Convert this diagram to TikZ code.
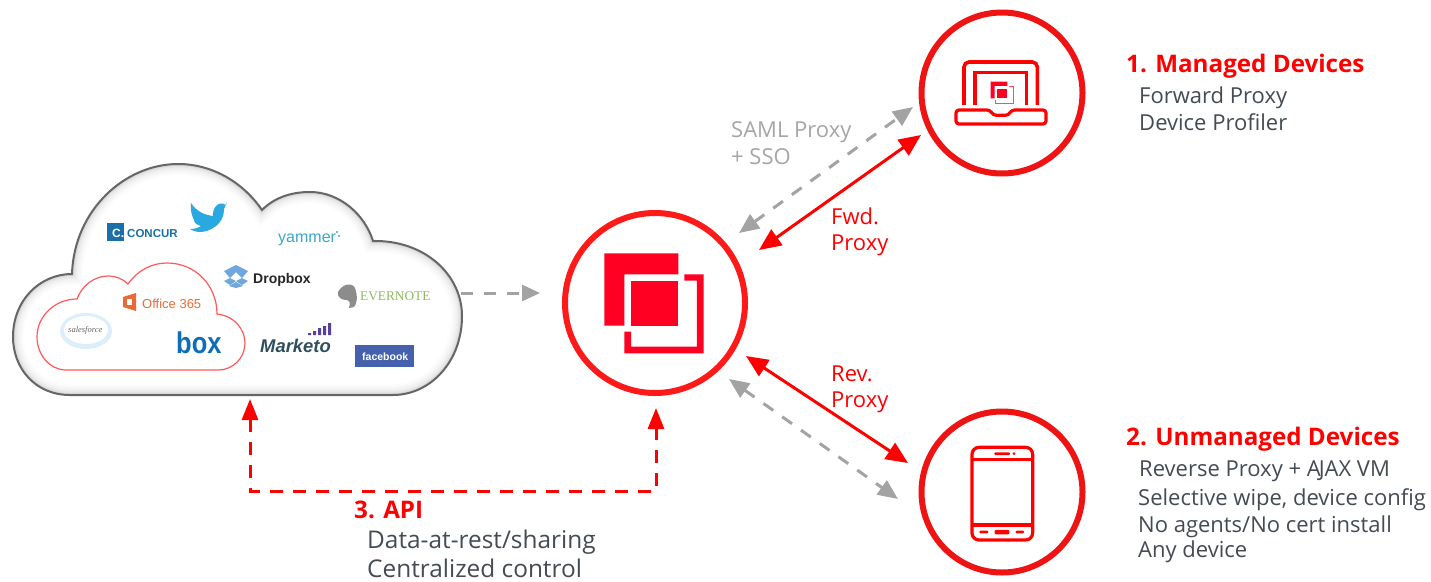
\documentclass[tikz,border=0pt]{standalone}
\usepackage{fontspec}
\setmainfont{Open Sans}
\newfontfamily\logosans{Liberation Sans}
\newfontfamily\logoserif{Liberation Serif}
\usetikzlibrary{arrows.meta}
\definecolor{hubred}{HTML}{FF1A1A}
\definecolor{ringred}{HTML}{EE1414}
\definecolor{iconred}{HTML}{FF0022}
\definecolor{arrowgray}{HTML}{A3A3A3}
\definecolor{txtgray}{HTML}{A6A6A6}
\definecolor{txtdark}{HTML}{444B52}
\definecolor{boxblue}{HTML}{0F6DB8}
\definecolor{concurblue}{HTML}{1A6FA8}
\definecolor{twitterblue}{HTML}{2AA9E0}
\definecolor{yammerblue}{HTML}{3BA8C8}
\definecolor{dropblue}{HTML}{6FA6DC}
\definecolor{everg}{HTML}{8DBB5E}
\definecolor{markdark}{HTML}{2F4F5F}
\definecolor{markpurple}{HTML}{5A3E9E}
\definecolor{fbblue}{HTML}{4560AC}
\definecolor{officeorange}{HTML}{EA6A35}
\definecolor{sfpale}{HTML}{DCEEF9}
\newcommand{\cloudshape}{(72,274)
 .. controls (74,210) and (125,164) .. (178,164)
 .. controls (215,164) and (245,185) .. (262,210)
 .. controls (275,197) and (292,192) .. (310,192)
 .. controls (340,192) and (365,215) .. (373,241)
 .. controls (425,240) and (462,275) .. (462,316)
 .. controls (462,362) and (430,395) .. (393,395)
 -- (70,395)
 .. controls (35,395) and (13,368) .. (13,337)
 .. controls (13,300) and (40,274) .. (72,274) -- cycle}
\tikzset{
 x=1pt,y=-1pt,
 ring/.style={circle,draw=#1,line width=6pt,inner sep=0pt,outer sep=0pt,fill=white},
 conn/.style={line width=3pt},
 redtip/.style={{Triangle[length=22pt,width=19pt]}-{Triangle[length=22pt,width=19pt]},color=red},
 graydash/.style={conn,arrowgray,dash pattern=on 12pt off 11pt,{Triangle[length=20pt,width=17pt]}-{Triangle[length=20pt,width=17pt]}},
 grayone/.style={conn,arrowgray,dash pattern=on 12pt off 11pt,-{Triangle[length=18pt,width=16pt]}},
 reddash/.style={conn,red,dash pattern=on 13pt off 10pt,{Triangle[length=21pt,width=16pt]}-{Triangle[length=21pt,width=16pt]}},
 head/.style={anchor=base west,inner sep=0pt,red,font=\fontsize{24.2}{28}\selectfont\bfseries},
 body/.style={anchor=base west,inner sep=0pt,txtdark,font=\fontsize{22}{27}\selectfont},
 bodylg/.style={anchor=base west,inner sep=0pt,txtdark,font=\fontsize{24.4}{27}\selectfont},
 lab/.style={anchor=base west,inner sep=0pt,font=\fontsize{22}{27}\selectfont},
 logo/.style={anchor=base west,inner sep=0pt},
}
\begin{document}
\begin{tikzpicture}
\path[use as bounding box,fill=white] (0,0) rectangle (1431,581);
% cloud
\fill[white] \cloudshape;
\begin{scope}
 \clip \cloudshape;
 \foreach \w/\o in {22/0.012,18/0.014,14/0.018,10/0.024,7/0.03,4/0.05}{
  \draw[black,opacity=\o,line width=\w pt] \cloudshape;}
\end{scope}
\draw[line width=2pt,color=black!60] \cloudshape;
% inner cloud
\draw[line width=1.2pt,color=red!65!white,fill=white]
 (77,299) .. controls (82,285) and (95,276) .. (108,276)
 .. controls (116,276) and (123,279) .. (128,284)
 .. controls (138,270) and (152,263) .. (167,263)
 .. controls (195,263) and (217,285) .. (217,314)
 .. controls (235,316) and (245,330) .. (245,343)
 .. controls (245,358) and (233,370) .. (218,370)
 -- (66,370)
 .. controls (50,370) and (37,355) .. (37,337)
 .. controls (37,316) and (55,299) .. (77,299) -- cycle;
% salesforce
\fill[sfpale] (86,331) ellipse (26pt and 18pt);
\fill[white] (86,330) ellipse (22pt and 14pt);
\node[logo,font=\logoserif\fontsize{8.5}{9}\selectfont\itshape,color=black!60] (sf) at (68,332) {salesforce};
% office 365
\fill[officeorange] (123,297) -- (136,293) -- (136,311) -- (123,307) -- cycle;
\fill[white] (127,299) rectangle (132,305);
\node[logo,font=\logosans\fontsize{13}{16}\selectfont,color=officeorange] (office) at (142,308) {Office 365};
% box
\node[logo,font=\logosans\bfseries\fontsize{30}{32}\selectfont,color=boxblue,xscale=0.85] (box) at (176,353) {box};
% concur
\fill[concurblue] (107,223) rectangle (124,241);
\node[logo,font=\logosans\bfseries\fontsize{12}{14}\selectfont,white] (concurc) at (112,237) {C.};
\node[logo,font=\logosans\bfseries\fontsize{11.5}{14}\selectfont,color=concurblue] (concur) at (127,237) {CONCUR};
% twitter
\fill[twitterblue]
 (191,203) .. controls (197,212) and (205,215) .. (213,216)
 .. controls (212,208) and (219,200) .. (226,205)
 -- (227,202) -- (224,209) -- (224,210)
 .. controls (224,224) and (210,232) .. (200,232)
 .. controls (197,232) and (193,231) .. (190,229)
 .. controls (194,229) and (198,228) .. (201,226)
 .. controls (197,225) and (194,223) .. (194,220)
 .. controls (192,216) and (190,210) .. (191,203) -- cycle;
% yammer
\node[logo,font=\logosans\fontsize{16}{16}\selectfont,color=yammerblue] (yammer) at (278,242) {yammer};
\fill[yammerblue] (337,232) circle (1.2pt) (339,236) circle (1.2pt);
% dropbox
\begin{scope}[color=dropblue]
 \fill (224,271) -- (236,265) -- (236,272) -- (230,278) -- cycle;
 \fill (248,271) -- (236,265) -- (236,272) -- (242,278) -- cycle;
 \fill (224,281) -- (230,278) -- (236,281) -- (230,285) -- cycle;
 \fill (248,281) -- (242,278) -- (236,281) -- (242,285) -- cycle;
 \fill (229,286) -- (236,282) -- (243,286) -- (236,288) -- cycle;
\end{scope}
\node[logo,font=\logosans\bfseries\fontsize{14}{17}\selectfont,color=black!85] (dropbox) at (253,283) {Dropbox};
% evernote
\fill[black!45] (338,292) .. controls (342,284) and (352,282) .. (355,288)
 .. controls (358,296) and (357,304) .. (354,307) -- (349,308)
 .. controls (351,302) and (349,300) .. (347,300)
 .. controls (342,300) and (337,298) .. (338,292) -- cycle;
\node[logo,font=\logoserif\fontsize{13.3}{14}\selectfont,color=everg] (evernote) at (360,300) {EVERNOTE};
% marketo
\fill[markpurple] (308,333) rectangle +(3,2) (313,331) rectangle +(3,4) (318,328) rectangle +(3,7) (323,326) rectangle +(3,9) (328,323) rectangle +(3,12);
\node[logo,font=\logosans\bfseries\itshape\fontsize{18.4}{20}\selectfont,color=markdark] (marketo) at (260,352) {Marketo};
% facebook
\fill[fbblue] (355,345) rectangle (414,367);
\node[logo,font=\logosans\bfseries\fontsize{10.5}{14}\selectfont,white] (facebook) at (362,360) {facebook};
% circles
\node[ring=hubred,minimum size=180pt] (hub) at (655,303) {};
\node[ring=ringred,minimum size=161pt] (laptop) at (1002,93) {};
\node[ring=ringred,minimum size=161pt] (phone) at (1002,492) {};
% hub icon
\begin{scope}[shift={(540,190)},x=0.3333pt,y=-0.3333pt]
 \fill[iconred] (193,190) -- (415,190) -- (415,253) -- (253,253) -- (253,407) -- (193,407) -- cycle;
 \fill[iconred] (273,273) rectangle (415,407);
 \fill[iconred] (433,253) -- (491,253) -- (491,490) -- (253,490) -- (253,425) -- (273,425) -- (273,470) -- (471,470) -- (471,272) -- (433,272) -- cycle;
\end{scope}
% laptop icon
\begin{scope}[shift={(900,0)},x=0.3333pt,y=-0.3333pt]
 \draw[red,line width=3.6pt,rounded corners=5pt] (192,315) -- (192,186) -- (412,186) -- (412,315);
 \draw[red,line width=3.6pt] (225,315) -- (225,217) -- (380,217) -- (380,315);
 \draw[red,line width=3.2pt,rounded corners=3pt] (168,330) -- (270,330) -- (280,346) -- (325,346) -- (335,330) -- (438,330) -- (438,372) -- (168,372) -- cycle;
 \fill[iconred] (272,245) -- (322,245) -- (322,258) -- (284,258) -- (284,295) -- (272,295) -- cycle;
 \fill[iconred] (292,268) rectangle (322,295);
 \draw[iconred!70!white,line width=1pt] (326,261) -- (339,261) -- (339,312) -- (286,312) -- (286,299);
\end{scope}
% phone icon
\begin{scope}[shift={(900,400)},x=0.3333pt,y=-0.3333pt]
 \draw[red,line width=3.2pt,rounded corners=7pt] (216,142) rectangle (398,420);
 \draw[red,line width=3.2pt] (216,178) -- (398,178) (216,375) -- (398,375);
 \fill[red,rounded corners=1pt] (283,157) rectangle (330,165);
 \fill[red] (342,161) circle (1.5pt);
 \fill[red,rounded corners=1pt] (238,392) rectangle (265,400) (284,390) rectangle (328,403) (347,392) rectangle (372,400);
\end{scope}
% connector ends
\coordinate (cloudout) at (461,293);
\coordinate (hubin) at (540,293);
\coordinate (samlA) at (739,233);
\coordinate (samlB) at (913,107);
\coordinate (fwdA) at (759,250);
\coordinate (fwdB) at (921,135);
\coordinate (revA) at (746,356);
\coordinate (revB) at (908,463);
\coordinate (grayA) at (729,379);
\coordinate (grayB) at (898,499);
\coordinate (apiA) at (250,399);
\coordinate (apiB) at (656,408);
\coordinate (apiC) at (250,491);
\coordinate (apiD) at (656,491);
\draw[grayone] (cloudout) -- (hubin);
\draw[graydash] (samlA) -- (samlB);
\draw[graydash] (grayA) -- (grayB);
\draw[conn,redtip] (fwdA) -- (fwdB);
\draw[conn,redtip] (revA) -- (revB);
\draw[reddash] (apiA) -- (apiC) -- (apiD) -- (apiB);
% labels
\node[lab,txtgray] (saml1) at (731,137) {SAML Proxy};
\node[lab,txtgray] (saml2) at (731,164) {+ SSO};
\node[lab,red] (fwd1) at (831,224) {Fwd.};
\node[lab,red] (fwd2) at (831,250) {Proxy};
\node[lab,red] (rev1) at (831,381) {Rev.};
\node[lab,red] (rev2) at (831,407) {Proxy};
\node[head] (h1) at (1126,72) {1. Managed Devices};
\node[body] (b11) at (1139,103) {Forward Proxy};
\node[body] (b12) at (1139,130) {Device Profiler};
\node[head] (h2) at (1126,445) {2. Unmanaged Devices};
\node[body] (b21) at (1139,476) {Reverse Proxy + A\kern-2pt JAX VM};
\node[body] (b22) at (1138,505) {Selective wipe, device config};
\node[body] (b23) at (1138,532) {No agents/No cert install};
\node[body] (b24) at (1138,557) {Any device};
\node[head] (h3) at (354,518) {3. API};
\node[bodylg] (b31) at (367,548) {Data-at-rest/sharing};
\node[bodylg] (b32) at (367,577) {Centralized control};
\end{tikzpicture}
\end{document}
